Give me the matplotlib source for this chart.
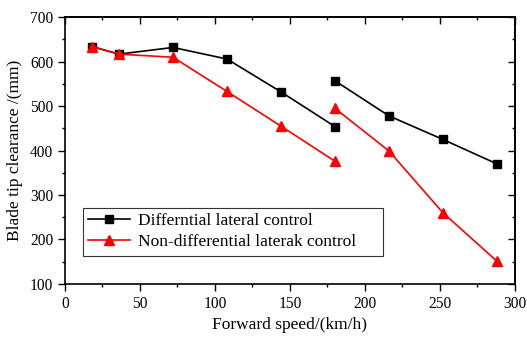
import matplotlib
matplotlib.use("Agg")
import matplotlib.pyplot as plt
from matplotlib.ticker import MultipleLocator
import numpy as np

plt.rcParams['font.family'] = ['Liberation Serif', 'DejaVu Serif']

speed_a = [18, 36, 72, 108, 144, 180]
speed_b = [180, 216, 252, 288]
diff_a = [634, 617, 632, 606, 532, 454]
diff_b = [557, 478, 425, 370]
nondiff_a = [634, 617, 610, 533, 455, 376]
nondiff_b = [495, 399, 260, 151]

labels = ["Differntial lateral control", "Non-differential laterak control"]

fig = plt.figure(figsize=(5.27, 3.38), dpi=100)
ax = fig.add_axes([0.1233, 0.160, 0.8539, 0.789])

ax.plot(speed_a, diff_a, color='black', marker='s', markersize=5.5, lw=1.2, label=labels[0])
ax.plot(speed_b, diff_b, color='black', marker='s', markersize=5.5, lw=1.2)
ax.plot(speed_a, nondiff_a, color='red', marker='^', markersize=6.5, lw=1.2, label=labels[1])
ax.plot(speed_b, nondiff_b, color='red', marker='^', markersize=6.5, lw=1.2)

ax.set_xlim(0, 300)
ax.set_ylim(100, 700)
ax.xaxis.set_major_locator(MultipleLocator(50))
ax.xaxis.set_minor_locator(MultipleLocator(25))
ax.yaxis.set_major_locator(MultipleLocator(100))
ax.yaxis.set_minor_locator(MultipleLocator(50))
ax.tick_params(which='both', direction='out', top=False, right=False, labelsize=11.2, width=1.0, pad=3.5)
ax.tick_params(which='major', length=5)
ax.tick_params(which='minor', length=2.5)
for s in ax.spines.values():
    s.set_linewidth(1.2)

secx = ax.secondary_xaxis('top')
secx.xaxis.set_major_locator(MultipleLocator(50))
secx.xaxis.set_minor_locator(MultipleLocator(25))
secx.tick_params(which='both', direction='in', labeltop=False, width=1.0)
secx.tick_params(which='major', length=5)
secx.tick_params(which='minor', length=2.5)
secy = ax.secondary_yaxis('right')
secy.yaxis.set_major_locator(MultipleLocator(100))
secy.yaxis.set_minor_locator(MultipleLocator(50))
secy.tick_params(which='both', direction='in', labelright=False, width=1.0)
secy.tick_params(which='major', length=5)
secy.tick_params(which='minor', length=2.5)
for sa in (secx, secy):
    for s in sa.spines.values():
        s.set_linewidth(1.2)

ax.set_xlabel("Forward speed/(km/h)", fontsize=12.5, labelpad=4)
ax.set_ylabel("Blade tip clearance /(mm)", fontsize=12.5, labelpad=5)

leg = ax.legend(loc='lower left', bbox_to_anchor=(0.04, 0.106, 0.667, 0.18), borderaxespad=0,
                mode='expand',
                fontsize=12.5, frameon=True, fancybox=False, edgecolor='black',
                handlelength=2.4, handletextpad=0.45, borderpad=0.3, labelspacing=0.3)
leg.get_frame().set_linewidth(0.8)

fig.savefig("out.png", dpi=100)
